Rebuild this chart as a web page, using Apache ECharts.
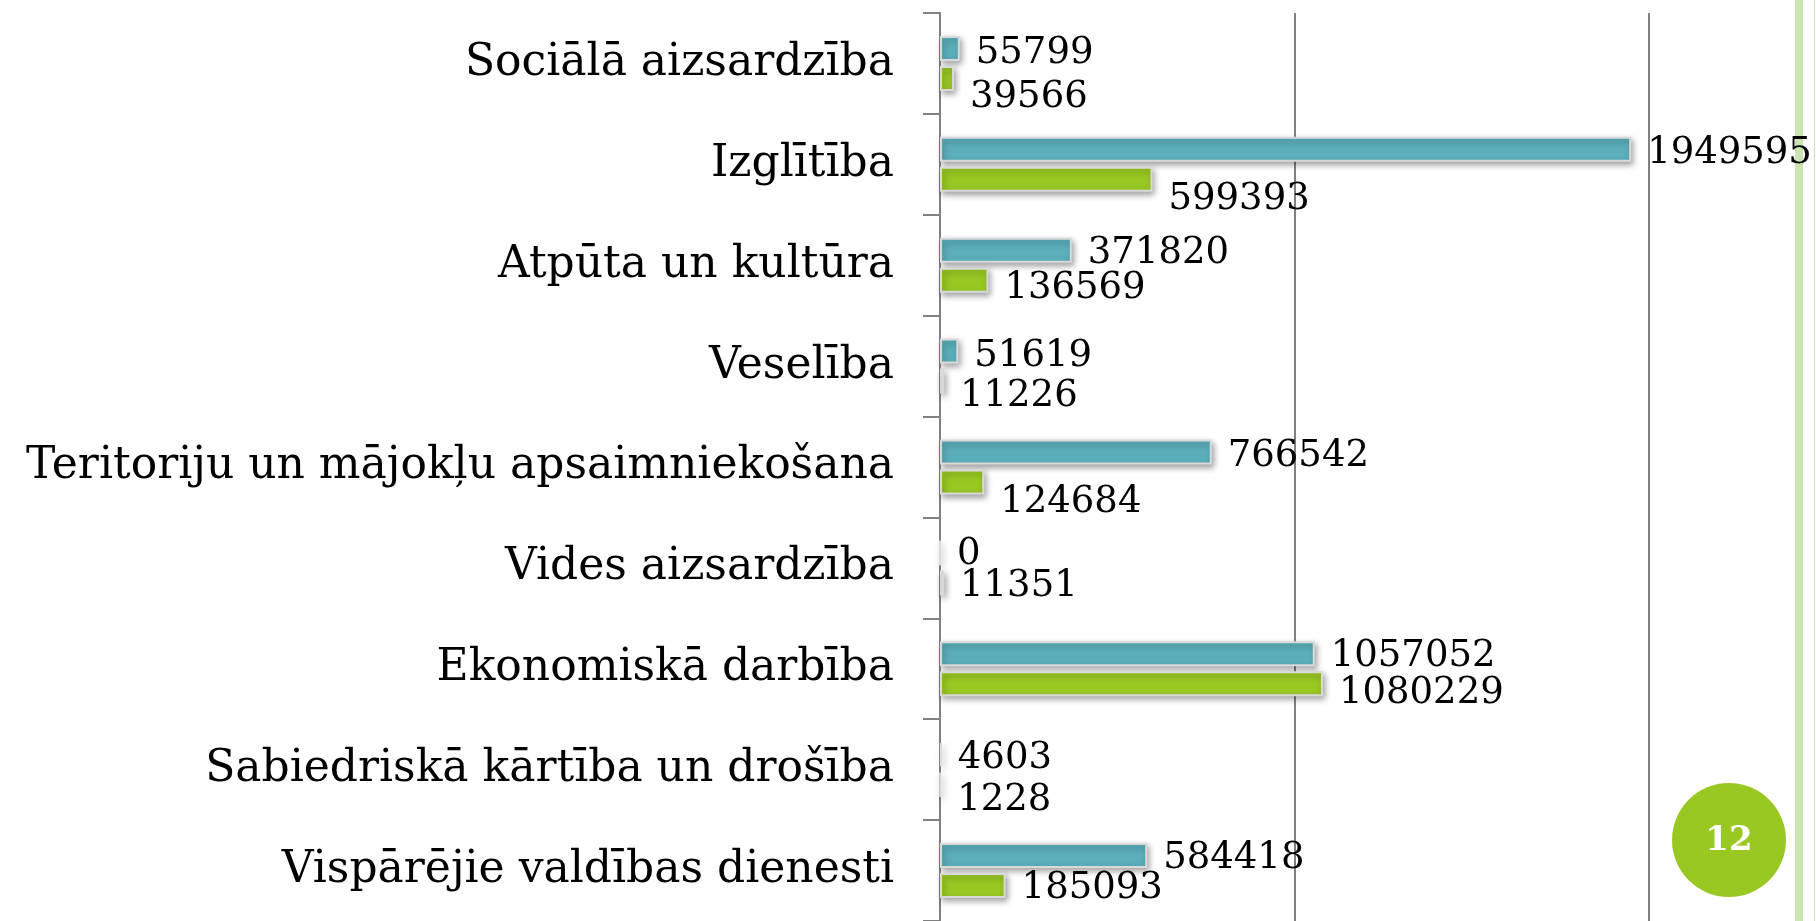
<!DOCTYPE html>
<html>
<head>
<meta charset="utf-8">
<title>Izdevumi pēc funkcijām</title>
<script src="https://cdn.jsdelivr.net/npm/echarts@6/dist/echarts.min.js"></script>
<style>
    html, body { margin: 0; padding: 0; background: #fff; }
    #chart { width: 1816px; height: 921px; }
</style>
</head>
<body>
<div id="chart"></div>
<script type="text/javascript">
    // kategorijas (no augšas uz leju)
    var categories = [
        'Sociālā aizsardzība',
        'Izglītība',
        'Atpūta un kultūra',
        'Veselība',
        'Teritoriju un mājokļu apsaimniekošana',
        'Vides aizsardzība',
        'Ekonomiskā darbība',
        'Sabiedriskā kārtība un drošība',
        'Vispārējie valdības dienesti'
    ];
    var valuesTeal  = [55799, 1949595, 371820, 51619, 766542, 0, 1057052, 4603, 584418];
    var valuesGreen = [39566, 599393, 136569, 11226, 124684, 11351, 1080229, 1228, 185093];
    var axisTicks = [0, 1000000, 2000000];

    // label nudges (vertical, px) like in the original slide
    var greenLabelShift = [19, 20, 8, 15, 20, 4, 10, 16, 3];
    var tealLabelShift  = [5, 4, 3, 5, 4, 2, 3, 4, 3];

    var serif = 'DejaVu Serif';
    var gray = '#808080';

    var chart = echarts.init(document.getElementById('chart'));

    function labelled(values, shifts) {
        return values.map(function (v, i) {
            return { value: v, label: { offset: [0, shifts[i]] } };
        });
    }

    var barStyle = function (color) {
        return {
            color: color,
            borderColor: '#d9d9d9',
            borderWidth: 2,
            shadowColor: 'rgba(0,0,0,0.35)',
            shadowBlur: 6,
            shadowOffsetX: 2,
            shadowOffsetY: 3
        };
    };

    var valueLabel = {
        show: true,
        position: 'right',
        distance: 16,
        fontFamily: serif,
        fontSize: 37,
        color: '#000'
    };

    var option = {
        backgroundColor: '#fff',
        animation: false,
        grid: { left: 940, top: 13, width: 709, height: 909 },
        xAxis: {
            type: 'value',
            min: axisTicks[0],
            max: axisTicks[axisTicks.length - 1],
            interval: axisTicks[1] - axisTicks[0],
            axisLine: { show: false },
            axisTick: { show: false },
            axisLabel: { show: false },
            splitLine: { show: true, lineStyle: { color: gray, width: 2 } }
        },
        yAxis: {
            type: 'category',
            inverse: true,
            data: categories,
            axisLine: { show: true, lineStyle: { color: gray, width: 2 } },
            axisTick: { show: true, length: 17, lineStyle: { color: gray, width: 2 } },
            axisLabel: {
                margin: 46, fontFamily: serif, fontSize: 44, color: '#000',
                padding: [6, 0, 0, 0]
            },
            splitLine: { show: false }
        },
        series: [
            {
                name: 'Sērija 1',
                type: 'bar',
                barWidth: 25,
                barGap: '20%',
                itemStyle: barStyle('#5aafbb'),
                label: valueLabel,
                data: labelled(valuesTeal, tealLabelShift)
            },
            {
                name: 'Sērija 2',
                type: 'bar',
                barWidth: 25,
                barGap: '20%',
                itemStyle: barStyle('#99c823'),
                label: valueLabel,
                data: labelled(valuesGreen, greenLabelShift)
            }
        ],
        graphic: [
            { type: 'rect', shape: { x: 1795, y: 0, width: 8, height: 921 }, style: { fill: '#cde3b3' }, silent: true },
            { type: 'rect', shape: { x: 1814, y: 0, width: 1, height: 921 }, style: { fill: '#cde3b3' }, silent: true },
            { type: 'circle', shape: { cx: 1729, cy: 840, r: 57 }, style: { fill: '#99c823' }, silent: true },
            {
                type: 'text', x: 1729, y: 841, silent: true,
                style: {
                    text: '12', fill: '#fff', font: 'bold 34px "DejaVu Serif"',
                    align: 'center', verticalAlign: 'middle'
                }
            }
        ]
    };
    chart.setOption(option);

    window.addEventListener('resize', function () {
        chart.resize();
    });
</script>
</body>
</html>
